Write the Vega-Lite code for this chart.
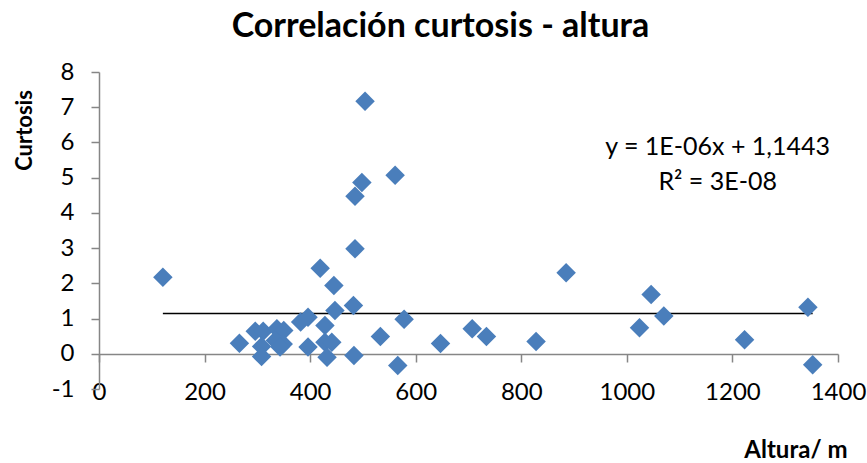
{
  "$schema": "https://vega.github.io/schema/vega-lite/v6.json",
  "width": 739,
  "height": 317,
  "autosize": {"type": "none"},
  "padding": {"left": 99, "top": 72, "right": 29, "bottom": 74},
  "background": "white",
  "title": {
    "text": "Correlación curtosis - altura",
    "font": "Lato",
    "fontSize": 34,
    "fontWeight": "bold",
    "color": "#000000",
    "anchor": "middle",
    "dx": -28,
    "offset": 16
  },
  "config": {
    "view": {"stroke": null},
    "font": "Lato"
  },
  "datasets": {
    "points": [
      {"altura": 121, "curtosis": 2.17},
      {"altura": 266, "curtosis": 0.30},
      {"altura": 296, "curtosis": 0.64},
      {"altura": 311, "curtosis": 0.64},
      {"altura": 308, "curtosis": 0.21},
      {"altura": 308, "curtosis": -0.08},
      {"altura": 337, "curtosis": 0.71},
      {"altura": 350, "curtosis": 0.66},
      {"altura": 334, "curtosis": 0.38},
      {"altura": 349, "curtosis": 0.28},
      {"altura": 343, "curtosis": 0.19},
      {"altura": 382, "curtosis": 0.90},
      {"altura": 396, "curtosis": 1.04},
      {"altura": 396, "curtosis": 0.19},
      {"altura": 428, "curtosis": 0.80},
      {"altura": 428, "curtosis": 0.33},
      {"altura": 441, "curtosis": 0.33},
      {"altura": 432, "curtosis": -0.10},
      {"altura": 447, "curtosis": 1.23},
      {"altura": 482, "curtosis": 1.37},
      {"altura": 483, "curtosis": -0.05},
      {"altura": 419, "curtosis": 2.43},
      {"altura": 445, "curtosis": 1.94},
      {"altura": 485, "curtosis": 2.98},
      {"altura": 485, "curtosis": 4.47},
      {"altura": 498, "curtosis": 4.86},
      {"altura": 504, "curtosis": 7.17},
      {"altura": 561, "curtosis": 5.07},
      {"altura": 533, "curtosis": 0.49},
      {"altura": 578, "curtosis": 0.98},
      {"altura": 566, "curtosis": -0.33},
      {"altura": 647, "curtosis": 0.29},
      {"altura": 707, "curtosis": 0.71},
      {"altura": 734, "curtosis": 0.49},
      {"altura": 828, "curtosis": 0.35},
      {"altura": 885, "curtosis": 2.30},
      {"altura": 1024, "curtosis": 0.74},
      {"altura": 1046, "curtosis": 1.68},
      {"altura": 1070, "curtosis": 1.07},
      {"altura": 1223, "curtosis": 0.40},
      {"altura": 1343, "curtosis": 1.32},
      {"altura": 1352, "curtosis": -0.31}
    ],
    "trend": [
      {"altura": 121, "curtosis": 1.1444},
      {"altura": 1352, "curtosis": 1.1457}
    ],
    "labels": [
      {"altura": 1172, "curtosis": 5.86, "label": "y = 1E-06x + 1,1443"},
      {"altura": 1172, "curtosis": 4.87, "label": "R² = 3E-08"}
    ]
  },
  "encoding": {
    "x": {
      "field": "altura",
      "type": "quantitative",
      "scale": {"domain": [0, 1400], "nice": false, "zero": false},
      "axis": {
        "values": [0, 200, 400, 600, 800, 1000, 1200, 1400],
        "labelExpr": "'' + datum.value",
        "offset": -35,
        "grid": false,
        "domainColor": "#868686",
        "domainWidth": 1.5,
        "tickColor": "#868686",
        "tickWidth": 1.5,
        "tickSize": 8,
        "labelFont": "Lato",
        "labelFontSize": 24,
        "labelColor": "#000000",
        "labelPadding": 18,
        "labelFlush": false,
        "labelOverlap": false,
        "title": "Altura/ m",
        "titleFont": "Lato",
        "titleFontSize": 24,
        "titleFontWeight": "bold",
        "titleColor": "#000000",
        "titleAlign": "right",
        "titleAnchor": "end",
        "titleX": 748,
        "titleY": 96,
        "titleBaseline": "middle"
      }
    },
    "y": {
      "field": "curtosis",
      "type": "quantitative",
      "scale": {"domain": [-1, 8], "nice": false, "zero": false},
      "axis": {
        "values": [-1, 0, 1, 2, 3, 4, 5, 6, 7, 8],
        "labelExpr": "'' + datum.value",
        "grid": false,
        "domainColor": "#868686",
        "domainWidth": 1.5,
        "tickColor": "#868686",
        "tickWidth": 1.5,
        "tickSize": 8,
        "labelFont": "Lato",
        "labelFontSize": 24,
        "labelColor": "#000000",
        "labelPadding": 17,
        "labelFlush": false,
        "labelOverlap": false,
        "title": "Curtosis",
        "titleFont": "Lato",
        "titleFontSize": 22,
        "titleFontWeight": "bold",
        "titleColor": "#000000",
        "titleX": -75,
        "titleY": 58,
        "titleAngle": -90,
        "titleAlign": "center",
        "titleBaseline": "middle"
      }
    }
  },
  "layer": [
    {
      "data": {"name": "trend"},
      "mark": {"type": "line", "color": "#000000", "strokeWidth": 1.5}
    },
    {
      "data": {"name": "points"},
      "mark": {"type": "point", "shape": "diamond", "filled": true, "size": 380, "color": "#4a7ebb", "opacity": 1}
    },
    {
      "data": {"name": "labels"},
      "mark": {"type": "text", "font": "Lato", "fontSize": 25, "color": "#000000", "align": "center", "baseline": "middle"},
      "encoding": {"text": {"field": "label"}}
    }
  ]
}
